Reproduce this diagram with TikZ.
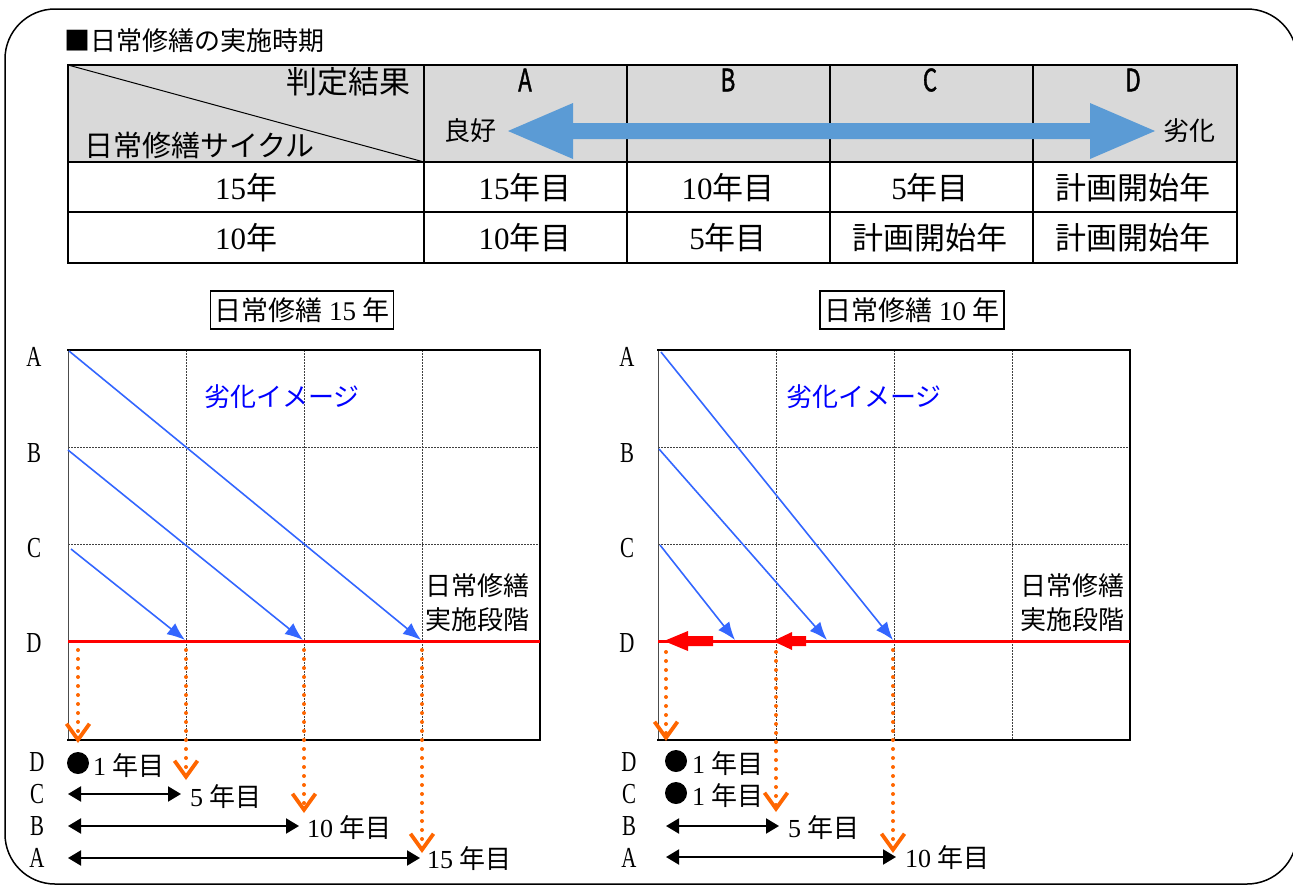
\documentclass[tikz,border=0pt]{standalone}
\usepackage{fontspec}
\setmainfont{Liberation Serif}
\newfontfamily\jp{Noto Sans CJK JP}
\newfontfamily\jpn[FakeStretch=0.72,FakeBold=1.2]{Noto Sans CJK JP}
\newfontfamily\nserif[FakeStretch=0.72]{Liberation Serif}
\usetikzlibrary{arrows.meta}
\definecolor{hdrgray}{HTML}{D9D9D9}
\definecolor{bigblue}{HTML}{5B9BD5}
\definecolor{lineblue}{HTML}{3366FF}
\definecolor{txtblue}{HTML}{0000FF}
\definecolor{orng}{HTML}{FF6600}
\definecolor{redc}{HTML}{FF0000}
\begin{document}
\begin{tikzpicture}[x=1pt,y=-1pt,
  frame/.style={line width=1.5pt, rounded corners=50pt},
  tline/.style={line width=1.8pt},
  jtxt/.style={font=\jp\fontsize{#1}{#1}\selectfont, inner sep=0pt},
  stxt/.style={font=\fontsize{#1}{#1}\selectfont, inner sep=0pt},
  hlet/.style={font=\jpn\fontsize{31}{31}\selectfont, inner sep=0pt},
  axlbl/.style={font=\nserif\fontsize{29}{29}\selectfont, inner sep=0pt},
  gridln/.style={line width=1pt, black!75, dash pattern=on 1.5pt off 1.5pt},
  boxln/.style={line width=2pt},
  bline/.style={lineblue, line width=1.6pt, -{Latex[length=18pt,width=14pt]}},
  oarr/.style={orng, line width=4pt, line cap=round, dash pattern=on 0pt off 9pt,
    -{Straight Barb[length=16pt,width=23pt,line width=3.8pt]}},
  darr/.style={line width=2pt, {Triangle[length=13pt,width=15pt]}-{Triangle[length=13pt,width=15pt]}},
  redline/.style={redc, line width=3pt},
  titlebox/.style={draw, line width=1.5pt, inner sep=0pt, minimum height=38pt, font=\fontsize{27}{27}\selectfont}
]
\useasboundingbox (0,0) rectangle (1293,884);
% outer frame
\draw[frame] (5,9) rectangle (1297,884);
% title
\node[jtxt=26, anchor=west] (title) at (64,41) {■日常修繕の実施時期};
% table
\fill[hdrgray] (68,65) rectangle (1237,162);
\draw[line width=1pt] (68,65) -- (424,162);
\draw[tline] (68,65) rectangle (1237,263);
\draw[tline] (68,162) -- (1237,162);
\draw[tline] (68,212) -- (1237,212);
\foreach \xx in {424,627,830,1033} \draw[tline] (\xx,65) -- (\xx,263);
\node[jtxt=31, anchor=east] (hres) at (411,82) {判定結果};
\node[jtxt=29, anchor=west] (hcyc) at (84,145) {日常修繕サイクル};
\node[hlet] (hA) at (525,80) {A};
\node[hlet] (hB) at (728,80) {B};
\node[hlet] (hC) at (930,80) {C};
\node[hlet] (hD) at (1133,80) {D};
\node[jtxt=26] (good) at (470,131) {良好};
\node[jtxt=26] (bad) at (1189,131) {劣化};
\fill[bigblue] (508,131) -- (573,103) -- (573,123) -- (1090,123) -- (1090,103)
  -- (1155,131) -- (1090,159) -- (1090,139) -- (573,139) -- (573,159) -- cycle;
% rows
\node[stxt=31] (r1c0) at (246,188) {15{\jp 年}};
\node[stxt=31] (r1c1) at (525,188) {15{\jp 年目}};
\node[stxt=31] (r1c2) at (728,188) {10{\jp 年目}};
\node[stxt=31] (r1c3) at (930,188) {5{\jp 年目}};
\node[stxt=31] (r1c4) at (1133,188) {{\jp 計画開始年}};
\node[stxt=31] (r2c0) at (246,238) {10{\jp 年}};
\node[stxt=31] (r2c1) at (525,238) {10{\jp 年目}};
\node[stxt=31] (r2c2) at (728,238) {5{\jp 年目}};
\node[stxt=31] (r2c3) at (930,238) {{\jp 計画開始年}};
\node[stxt=31] (r2c4) at (1133,238) {{\jp 計画開始年}};

% ===== left chart =====
\node[titlebox, minimum width=183pt] (t1) at (302,310) {{\jp 日常修繕} 15 {\jp 年}};
\foreach \xx in {186,304,422} \draw[gridln] (\xx,350) -- (\xx,740);
\foreach \yy in {447,544} \draw[gridln] (68,\yy) -- (540,\yy);
\draw[line width=1pt, black!70] (68,350) -- (68,740);
\draw[boxln] (67,350) -- (540,350) -- (540,740) -- (67,740);
\draw[redline] (68,641) -- (540,641);
\node[axlbl] (lA) at (34,357) {A};
\node[axlbl] (lB) at (34,453) {B};
\node[axlbl] (lC) at (34,548) {C};
\node[axlbl] (lD) at (34,643) {D};
\node[jtxt=26, text=txtblue] (limg) at (282,397) {劣化イメージ};
\node[jtxt=26, align=center, anchor=north] (lstage) at (477,573) {日常修繕\\[8pt]実施段階};
\coordinate (LsA) at (69,351); \coordinate (LeA) at (421,640);
\coordinate (LsB) at (68,450); \coordinate (LeB) at (303,640);
\coordinate (LsC) at (71,549); \coordinate (LeC) at (185,640);
\draw[bline] (LsA) -- (LeA);
\draw[bline] (LsB) -- (LeB);
\draw[bline] (LsC) -- (LeC);
\coordinate (Lo1s) at (78,650); \coordinate (Lo1e) at (78,743);
\coordinate (Lo2s) at (186,650); \coordinate (Lo2e) at (186,780);
\coordinate (Lo3s) at (304,650); \coordinate (Lo3e) at (304,813);
\coordinate (Lo4s) at (422,650); \coordinate (Lo4e) at (422,853);
\draw[oarr] (Lo1s) -- (Lo1e);
\draw[oarr] (Lo2s) -- (Lo2e);
\draw[oarr] (Lo3s) -- (Lo3e);
\draw[oarr] (Lo4s) -- (Lo4e);
\node[axlbl] (lbD) at (37,762) {D};
\node[axlbl] (lbC) at (37,794) {C};
\node[axlbl] (lbB) at (37,826) {B};
\node[axlbl] (lbA) at (37,858) {A};
\fill (78,763) circle (11pt);
\node[stxt=26, anchor=west] (ly1) at (93,766) {1 {\jp 年目}};
\node[stxt=26, anchor=west] (ly5) at (190,797) {5 {\jp 年目}};
\node[stxt=26, anchor=west] (ly10) at (307,828) {10 {\jp 年目}};
\node[stxt=26, anchor=west] (ly15) at (427,859) {15 {\jp 年目}};
\coordinate (LdC) at (68,794); \coordinate (LdB) at (68,826); \coordinate (LdA) at (68,858);
\coordinate (LdCe) at (181,794); \coordinate (LdBe) at (299,826); \coordinate (LdAe) at (420,858);
\draw[darr] (LdC) -- (LdCe);
\draw[darr] (LdB) -- (LdBe);
\draw[darr] (LdA) -- (LdAe);

% ===== right chart =====
\node[titlebox, minimum width=184pt] (t2) at (912,310) {{\jp 日常修繕} 10 {\jp 年}};
\foreach \xx in {776,894,1012} \draw[gridln] (\xx,350) -- (\xx,740);
\foreach \yy in {447,544} \draw[gridln] (658,\yy) -- (1130,\yy);
\draw[line width=1pt, black!70] (658,350) -- (658,740);
\draw[boxln] (657,350) -- (1130,350) -- (1130,740) -- (657,740);
\draw[redline] (658,641) -- (1130,641);
\node[axlbl] (rA) at (627,357) {A};
\node[axlbl] (rB) at (627,453) {B};
\node[axlbl] (rC) at (627,548) {C};
\node[axlbl] (rD) at (627,643) {D};
\node[jtxt=26, text=txtblue] (rimg) at (864,397) {劣化イメージ};
\node[jtxt=26, align=center, anchor=north] (rstage) at (1072,573) {日常修繕\\[8pt]実施段階};
\coordinate (RsA) at (661,352); \coordinate (ReA) at (893,640);
\coordinate (RsB) at (659,449); \coordinate (ReB) at (827,640);
\coordinate (RsC) at (660,545); \coordinate (ReC) at (735,640);
\draw[bline] (RsA) -- (ReA);
\draw[bline] (RsB) -- (ReB);
\draw[bline] (RsC) -- (ReC);
\fill[redc] (664,641) -- (688,631) -- (688,636) -- (713,636) -- (713,646) -- (688,646) -- (688,651) -- cycle;
\fill[redc] (773,641) -- (792,632) -- (792,636) -- (806,636) -- (806,646) -- (792,646) -- (792,650) -- cycle;
\coordinate (Ro1s) at (666,652); \coordinate (Ro1e) at (666,741);
\coordinate (Ro2s) at (776,652); \coordinate (Ro2e) at (776,812);
\coordinate (Ro3s) at (893,650); \coordinate (Ro3e) at (893,853);
\draw[oarr] (Ro1s) -- (Ro1e);
\draw[oarr] (Ro2s) -- (Ro2e);
\draw[oarr] (Ro3s) -- (Ro3e);
\node[axlbl] (rbD) at (629,762) {D};
\node[axlbl] (rbC) at (629,794) {C};
\node[axlbl] (rbB) at (629,826) {B};
\node[axlbl] (rbA) at (629,858) {A};
\fill (676,761) circle (11pt);
\fill (676,793) circle (11pt);
\node[stxt=26, anchor=west] (ry1a) at (692,764) {1 {\jp 年目}};
\node[stxt=26, anchor=west] (ry1b) at (692,796) {1 {\jp 年目}};
\node[stxt=26, anchor=west] (ry5) at (788,828) {5 {\jp 年目}};
\node[stxt=26, anchor=west] (ry10) at (905,858) {10 {\jp 年目}};
\coordinate (RdB) at (666,826); \coordinate (RdA) at (666,857);
\coordinate (RdBe) at (779,826); \coordinate (RdAe) at (896,857);
\draw[darr] (RdB) -- (RdBe);
\draw[darr] (RdA) -- (RdAe);
\end{tikzpicture}
\end{document}
